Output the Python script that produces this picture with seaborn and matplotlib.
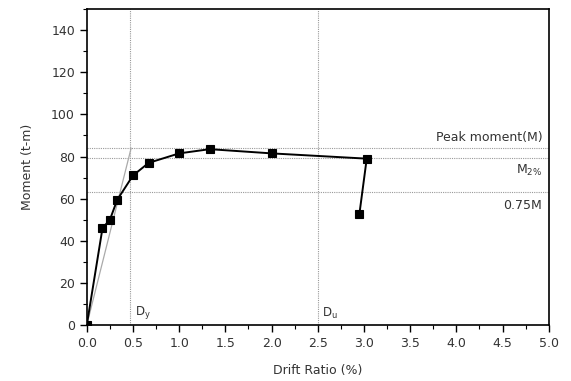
import matplotlib
matplotlib.use("Agg")
import matplotlib.pyplot as plt
import seaborn as sns
import pandas as pd
from matplotlib.ticker import MultipleLocator

drift = [0.0, 0.17, 0.25, 0.33, 0.50, 0.67, 1.00, 1.33, 2.00, 3.03, 2.95]
moment = [0.0, 46.0, 50.0, 59.5, 71.0, 77.0, 81.5, 83.5, 81.5, 79.0, 52.5]

peak_m = 84.0
m2 = 79.5
m75 = 63.0
dy = 0.47
du = 2.5
secant_x = [0.0, 0.48]
secant_y = [0.0, 84.0]
xticks = [0.0, 0.5, 1.0, 1.5, 2.0, 2.5, 3.0, 3.5, 4.0, 4.5, 5.0]

sns.set_theme(style="ticks")
plt.rcParams['font.family'] = ['DejaVu Sans']

fig = plt.figure(figsize=(5.71, 3.81), dpi=100)
ax = fig.add_axes([0.152, 0.147, 0.809, 0.829])

df = pd.DataFrame({"x": drift, "y": moment})
sns.lineplot(data=df, x="x", y="y", sort=False, ax=ax, color="black", lw=1.4,
             marker="s", markersize=5.8, markeredgewidth=0.8, markeredgecolor="black",
             markerfacecolor="black", zorder=5)

sec = pd.DataFrame({"x": secant_x, "y": secant_y})
sns.lineplot(data=sec, x="x", y="y", sort=False, ax=ax, color="#aaaaaa", lw=0.9, zorder=3)

for yv in [peak_m, m2, m75]:
    ax.axhline(yv, color="#999999", lw=0.8, ls=(0, (1, 1)), zorder=1)
for xv in [dy, du]:
    ax.axvline(xv, color="#999999", lw=0.8, ls=(0, (1, 1)), zorder=1)

ax.set_xlim(0, 5)
ax.set_ylim(0, 150)
ax.set_xticks(xticks)
ax.set_xticklabels([f"{v:.1f}" for v in xticks])
ax.xaxis.set_minor_locator(MultipleLocator(0.25))
ax.yaxis.set_major_locator(MultipleLocator(20))
ax.yaxis.set_minor_locator(MultipleLocator(10))

ax.tick_params(which="major", direction="out", length=5, width=1, colors="black", labelsize=9, labelcolor="#333333")
ax.tick_params(which="minor", direction="out", length=3, width=0.8, colors="black")
for s in ax.spines.values():
    s.set_visible(True)
    s.set_color("black")
    s.set_linewidth(1.2)

ax.set_xlabel("Drift Ratio (%)", fontsize=9, color="#333333", labelpad=10)
ax.set_ylabel("Moment (t-m)", fontsize=9, color="#333333", labelpad=12)

ax.text(4.93, 86, "Peak moment(M)", ha="right", va="bottom", fontsize=9, color="#333333")
ax.text(4.93, 77, r"M$_{2\%}$", ha="right", va="top", fontsize=9, color="#333333")
ax.text(4.93, 60, "0.75M", ha="right", va="top", fontsize=9, color="#333333")
ax.text(dy + 0.05, 2, r"D$_{\rm y}$", ha="left", va="bottom", fontsize=8.5, color="#333333")
ax.text(du + 0.05, 2, r"D$_{\rm u}$", ha="left", va="bottom", fontsize=8.5, color="#333333")

fig.savefig("out.png", dpi=100)
